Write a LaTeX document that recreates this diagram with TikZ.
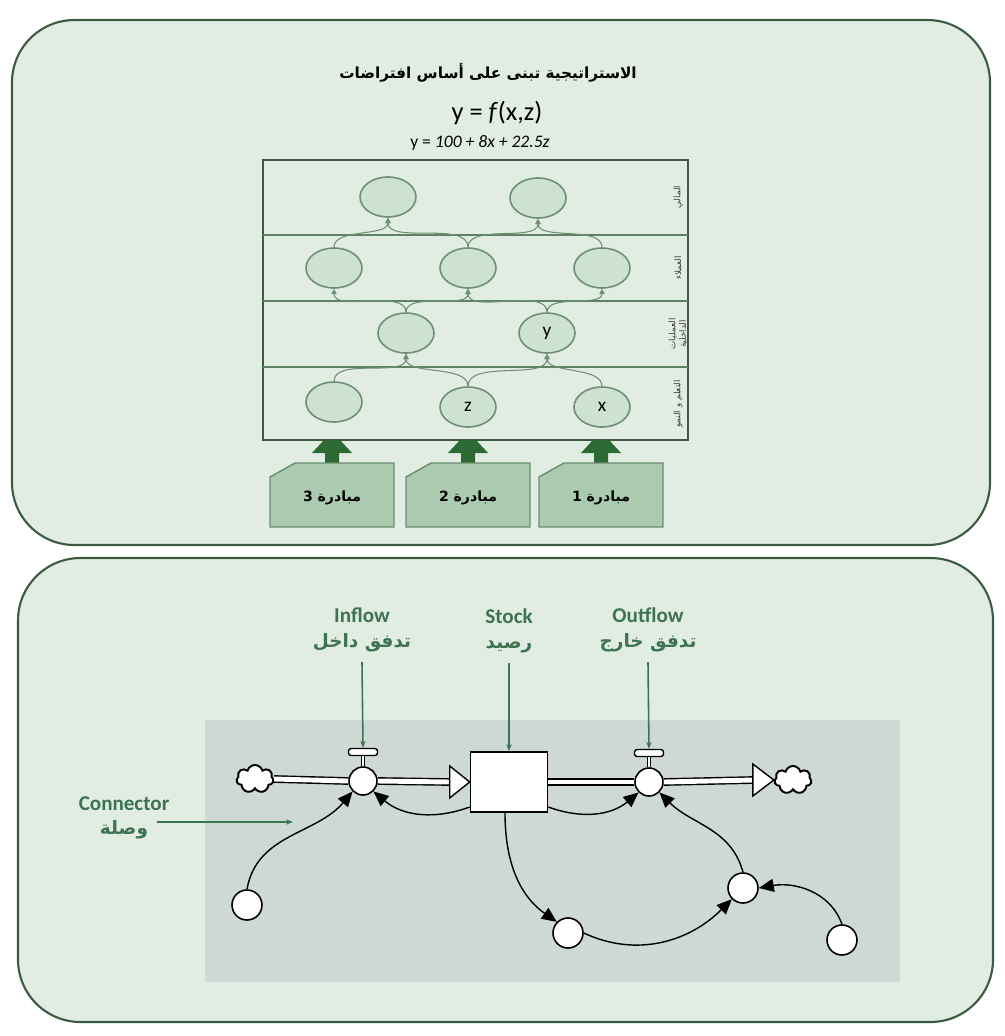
\documentclass[tikz,border=0pt]{standalone}
\usepackage{fontspec}
\setmainfont{Carlito}
\newfontfamily\arabicfont[Script=Arabic]{DejaVu Sans}
\TeXXeTstate=1
\usetikzlibrary{positioning,calc,arrows.meta,shapes.geometric,shapes.symbols}
\definecolor{panelfill}{HTML}{E1EDE3}
\definecolor{panelline}{HTML}{3B5A41}
\definecolor{simarea}{HTML}{CED9D5}
\definecolor{bubblefill}{HTML}{CDE2D0}
\definecolor{bubbleline}{HTML}{6E8F73}
\definecolor{gridline}{HTML}{5F8264}
\definecolor{pushgreen}{HTML}{2D6A33}
\definecolor{initfill}{HTML}{AACBAF}
\definecolor{initline}{HTML}{6C8C70}
\definecolor{notegreen}{HTML}{3E7352}
\begin{document}
\begin{tikzpicture}[x=0.02cm,y=0.02cm,
  panel/.style={draw=panelline,fill=panelfill,line width=1.2pt,rounded corners=1.25cm},
  bubble/.style={ellipse,draw=bubbleline,fill=bubblefill,line width=0.9pt,minimum width=1.12cm,minimum height=0.8cm,inner sep=0pt,font=\fontsize{11}{13}\selectfont},
  link/.style={draw=bubbleline,line width=0.6pt,-{Triangle[length=3pt,width=3pt]}},
  rowlabel/.style={rotate=90,font=\arabicfont\fontsize{5}{6}\selectfont,text=black!75,align=center,inner sep=0pt},
  initbox/.style={draw=initline,fill=initfill,line width=0.8pt},
  initlabel/.style={font=\arabicfont\bfseries\fontsize{8}{10}\selectfont},
  note/.style={text=notegreen,font=\bfseries\fontsize{12}{14}\selectfont,align=center,inner sep=1pt},
  annot/.style={draw=notegreen,line width=0.9pt,-{Stealth[length=4pt,width=3pt]}},
  pipe/.style={draw=black,line width=0.8pt,double=white,double distance=2.8pt},
  valve/.style={circle,draw=black,fill=white,line width=0.9pt,minimum size=0.56cm,inner sep=0pt},
  handle/.style={draw=black,fill=white,line width=0.8pt,rounded corners=1.5pt,minimum width=0.58cm,minimum height=0.14cm,inner sep=0pt},
  aux/.style={circle,draw=black,fill=white,line width=0.9pt,minimum size=0.6cm,inner sep=0pt},
  puff/.style={cloud,cloud puffs=7,aspect=1.3,draw=black,fill=white,line width=1.1pt,minimum width=0.74cm,minimum height=0.56cm,inner sep=0pt},
  conn/.style={draw=black,line width=0.8pt,-{Triangle[length=0.3cm,width=0.26cm]}}]
\useasboundingbox (0,0) rectangle (1005,-1036);
\fill[white] (0,0) rectangle (1005,-1036);
% panels
\draw[panel] (12,-20) rectangle (990,-545);
\draw[panel] (18,-558) rectangle (993,-1022);
% strategy map
\node[font=\arabicfont\bfseries\fontsize{8.7}{11}\selectfont] (title) at (488,-73) {\beginR الاستراتيجية تبنى على أساس افتراضات\endR};
\node[font=\fontsize{15}{17}\selectfont] (func) at (497,-113) {y = \textit{f}(x,z)};
\node[font=\fontsize{10}{12}\selectfont] (eqn) at (480,-143) {y = \textit{100 + 8x + 22.5z}};
\draw[draw=panelline,line width=1pt] (263,-160) rectangle (688,-440);
\foreach \y in {-235,-301,-367}
  \draw[gridline,line width=0.7pt] (263,\y) -- (688,\y);
\node[bubble] (f1) at (388,-197) {};
\node[bubble] (f2) at (538,-198) {};
\node[bubble] (c1) at (334,-268) {};
\node[bubble] (c2) at (468,-268) {};
\node[bubble] (c3) at (602,-268) {};
\node[bubble] (p1) at (406,-333) {};
\node[bubble] (p2) at (547,-333) {y};
\node[bubble] (l1) at (334,-402) {};
\node[bubble] (l2) at (468,-407) {z};
\node[bubble] (l3) at (602,-407) {x};
\foreach \a/\b in {l1/p1,l2/p1,l2/p2,l3/p2,p1/c1,p1/c2,p2/c2,p2/c3,c1/f1,c2/f1,c2/f2,c3/f2}
  \draw[link] (\a.north) to[out=90,in=-90,looseness=0.8] (\b.south);
\node[rowlabel] (fin) at (678,-197) {\beginR المالي\endR};
\node[rowlabel] (cust) at (678,-268) {\beginR العملاء\endR};
\node[rowlabel] (proc) at (678,-334) {\beginR العمليات\endR\\\beginR الداخلية\endR};
\node[rowlabel] (learn) at (678,-404) {\beginR التعلم و النمو\endR};
% initiatives
\foreach \x/\n in {270/3,406/2,539/1}{
  \fill[pushgreen] (\x+55,-464) -- (\x+55,-453) -- (\x+42,-453) -- (\x+54,-440) -- (\x+70,-440) -- (\x+82,-453) -- (\x+69,-453) -- (\x+69,-464) -- cycle;
  \draw[initbox] (\x,-477) -- (\x+25,-463) -- (\x+124,-463) -- (\x+124,-527) -- (\x,-527) -- cycle;
  \node[initlabel] (init\n) at (\x+62,-498) {\beginR مبادرة \n\endR};
}
% stock and flow
\fill[simarea] (205,-720) rectangle (900,-982);
\node[puff] (source) at (255,-779) {};
\node[valve] (inval) at (363,-781) {};
\node[draw=black,fill=white,line width=0.9pt,minimum width=1.54cm,minimum height=1.2cm] (stock) at (509,-782) {};
\node[valve] (outval) at (649,-782) {};
\node[puff] (sink) at (793,-780) {};
\node[handle,above=0.2cm of inval] (inhandle) {};
\node[handle,above=0.2cm of outval] (outhandle) {};
\draw[draw=black,line width=0.6pt,double=white,double distance=1.6pt] (inval.north) -- (inhandle.south);
\draw[draw=black,line width=0.6pt,double=white,double distance=1.6pt] (outval.north) -- (outhandle.south);
\draw[pipe] (source.east) -- (inval.west);
\draw[pipe] (inval.east) -- ($(stock.west)+(-19,0)$);
\draw[pipe] (stock.east) -- (outval.west);
\draw[pipe] (outval.east) -- ($(sink.west)+(-20,0)$);
\draw[black,fill=white,line width=0.8pt] ($(stock.west)+(-20,16)$) -- (stock.west) -- ($(stock.west)+(-20,-16)$) -- cycle;
\draw[black,fill=white,line width=0.8pt] ($(sink.west)+(-21,16)$) -- (sink.west) -- ($(sink.west)+(-21,-16)$) -- cycle;
\node[aux] (aux1) at (247,-905) {};
\node[aux] (aux2) at (568,-933) {};
\node[aux] (aux3) at (743,-888) {};
\node[aux] (aux4) at (842,-940) {};
\draw[conn] (aux1.north) to[out=80,in=-130] (inval.south west);
\draw[conn] ($(stock.west)+(0,-25)$) to[out=200,in=-40] (inval.south east);
\draw[conn] ($(stock.east)+(0,-25)$) to[out=-20,in=-140] (outval.south west);
\draw[conn] ($(stock.south)+(-4,0)$) to[out=-90,in=145] (aux2.north west);
\draw[conn] (aux2.east) to[out=-25,in=-135] (aux3.south west);
\draw[conn] (aux3.north) to[out=105,in=-45] (outval.south east);
\draw[conn] (aux4.north) to[out=110,in=10] (aux3.east);
% labels
\node[note] (inlabel) at (362,-630) {Inflow\\{\arabicfont\fontsize{10.5}{13}\selectfont\beginR تدفق داخل\endR}};
\node[note] (stocklabel) at (509,-631) {Stock\\{\arabicfont\fontsize{10.5}{13}\selectfont\beginR رصيد\endR}};
\node[note] (outlabel) at (648,-630) {Outflow\\{\arabicfont\fontsize{10.5}{13}\selectfont\beginR تدفق خارج\endR}};
\node[note] (connlabel) at (124,-818) {Connector\\{\arabicfont\fontsize{10.5}{13}\selectfont\beginR وصلة\endR}};
\coordinate (hit) at (293,-822);
\draw[annot] ($(inlabel.south)+(0,-8)$) -- (inhandle.north);
\draw[annot] ($(stocklabel.south)+(0,-8)$) -- (stock.north);
\draw[annot] ($(outlabel.south)+(0,-8)$) -- (outhandle.north);
\draw[annot] (157,-822) -- (hit);
\end{tikzpicture}
\end{document}
